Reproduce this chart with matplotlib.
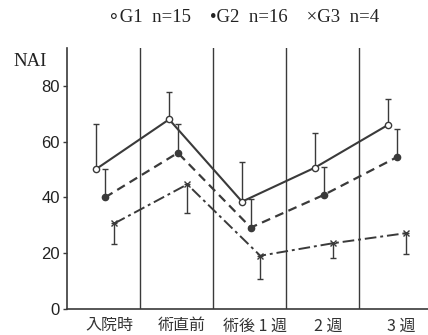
import matplotlib.pyplot as plt
import numpy as np

stages = ['入院時', '術直前', '術後 1 週', '2 週', '3 週']

g1_mean = [50.2, 68.0, 38.5, 50.7, 66.0]
g1_sd = [16.2, 9.7, 14.3, 12.3, 9.4]
g2_mean = [40.0, 56.0, 29.2, 40.9, 54.4]
g2_sd = [10.2, 10.4, 10.1, 9.9, 10.1]
g3_mean = [30.7, 44.7, 19.1, 23.6, 27.2]
g3_sd = [7.5, 10.2, 8.5, 5.4, 7.5]

ink = '#3a3a3a'
plt.rcParams['font.family'] = ['Liberation Sans', 'Noto Sans CJK JP']

fig = plt.figure(figsize=(4.28, 3.35), dpi=100)
ax = fig.add_axes([67 / 428, 26 / 335, 361 / 428, 261 / 335])

idx = np.arange(len(stages))

# vertical dividers between stages
for i in range(1, 5):
    ax.axvline(i, color=ink, lw=1.0)

# G1: open circles, solid line, SD upward
x1 = idx + 0.40
ax.plot(x1, g1_mean, '-', color=ink, lw=1.5, zorder=3)
ax.errorbar(x1, g1_mean, yerr=[np.zeros(5), g1_sd], fmt='none',
            ecolor=ink, elinewidth=1.0, capsize=2, capthick=1.0)
ax.plot(x1, g1_mean, 'o', ms=4.5, mfc='white', mec=ink, mew=1.0, zorder=4)

# G2: filled circles, dashed line, SD upward
x2 = idx + 0.52
ax.plot(x2, g2_mean, '--', color=ink, lw=1.6, dashes=(4, 2.5), zorder=3)
ax.errorbar(x2, g2_mean, yerr=[np.zeros(5), g2_sd], fmt='none',
            ecolor=ink, elinewidth=1.0, capsize=2, capthick=1.0)
ax.plot(x2, g2_mean, 'o', ms=4.5, color=ink, zorder=4)

# G3: crosses, dash-dot line, SD downward
x3 = idx + 0.65
ax.plot(x3, g3_mean, '-.', color=ink, lw=1.4, dashes=(6, 2, 1.5, 2), zorder=3)
ax.errorbar(x3, g3_mean, yerr=[g3_sd, np.zeros(5)], fmt='none',
            ecolor=ink, elinewidth=1.0, capsize=2, capthick=1.0)
ax.plot(x3, g3_mean, 'x', ms=4, color=ink, mew=1.0, zorder=4)

ax.set_xlim(0, 4.95)
ax.set_ylim(0, 93.6)
ax.set_yticks([0, 20, 40, 60, 80])
ax.tick_params(axis='y', length=3, width=1.0, color=ink, labelsize=12,
               labelcolor='#222222', pad=2)
ax.set_xticks(idx + 0.58)
ax.set_xticklabels(stages, fontsize=11.5, color='#333333',
                   family=['Noto Sans CJK JP', 'DejaVu Sans'])
ax.tick_params(axis='x', length=0, pad=6)

for side in ['top', 'right']:
    ax.spines[side].set_visible(False)
for side in ['left', 'bottom']:
    ax.spines[side].set_color(ink)
    ax.spines[side].set_linewidth(1.2)

fig.text(13 / 428, 1 - 62 / 335, 'NAI', fontsize=13.5, family='Liberation Serif',
         color='#222222', va='center', ha='left')
fig.text(244 / 428, 1 - 18 / 335, '∘G1  n=15    •G2  n=16    ×G3  n=4',
         fontsize=13.5, family=['Liberation Serif', 'DejaVu Sans'],
         color='#222222', va='center', ha='center')

fig.savefig('out.png', dpi=100)
